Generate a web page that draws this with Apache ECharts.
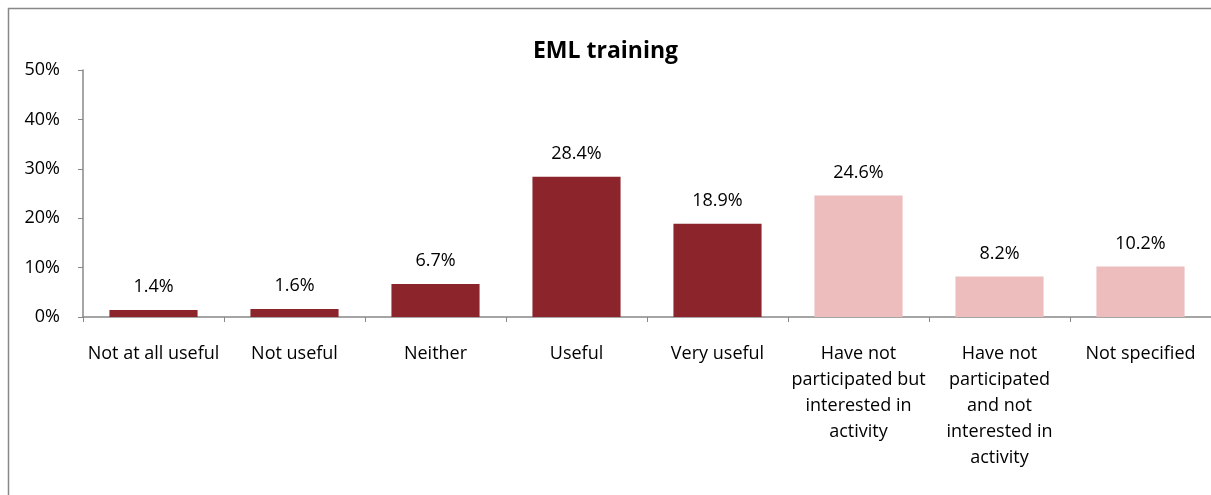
<!DOCTYPE html>
<html>
<head>
<meta charset="utf-8">
<script src="https://cdn.jsdelivr.net/npm/echarts@6/dist/echarts.min.js"></script>
<style>
  html, body { margin: 0; padding: 0; background: #fff; }
  #main { width: 1211px; height: 495px; }
</style>
</head>
<body>
<div id="main"></div>
<script>
// categories and values
var categories = [
    'Not at all useful',
    'Not useful',
    'Neither',
    'Useful',
    'Very useful',
    'Have not\nparticipated but\ninterested in\nactivity',
    'Have not\nparticipated\nand not\ninterested in\nactivity',
    'Not specified'
];
var shares = [1.4, 1.6, 6.7, 28.4, 18.9, 24.6, 8.2, 10.2];
var yTicks = [0, 10, 20, 30, 40, 50];
// the first five are ratings from participants, the rest are not
var ratedCount = 5;

var FONT = 'Open Sans';
var myChart = echarts.init(document.getElementById('main'));

var option = {
    animation: false,
    textStyle: { fontFamily: FONT },
    title: {
        text: 'EML training',
        left: 'center',
        top: 35,
        textStyle: { fontFamily: FONT, fontSize: 23, fontWeight: 'bold', color: '#000' }
    },
    // outer frame of the chart
    graphic: [{
        type: 'rect',
        shape: { x: 8.5, y: 8.5, width: 1300, height: 600 },
        style: { fill: 'none', stroke: '#888', lineWidth: 1.5 },
        silent: true
    }],
    grid: { left: 83, right: 0, top: 70, bottom: 178 },
    xAxis: {
        type: 'category',
        data: categories,
        axisLine: { lineStyle: { color: '#888', width: 1.5 } },
        axisTick: { show: true, length: 5, interval: 0, lineStyle: { color: '#888' } },
        axisLabel: { interval: 0, fontSize: 18, lineHeight: 26, color: '#000', margin: 24 }
    },
    yAxis: {
        type: 'value',
        min: yTicks[0],
        max: yTicks[yTicks.length - 1],
        interval: 10,
        splitLine: { show: false },
        axisLine: { show: true, lineStyle: { color: '#888', width: 1.5 } },
        axisTick: { show: true, length: 5, lineStyle: { color: '#888' } },
        axisLabel: { formatter: '{value}%', fontSize: 18, color: '#000', margin: 23 }
    },
    series: [{
        type: 'bar',
        data: shares,
        barCategoryGap: '37.5%',
        itemStyle: {
            color: function (p) {
                return p.dataIndex < ratedCount ? '#8B252B' : '#EDBCBD';
            }
        },
        label: {
            show: true,
            position: 'top',
            distance: 14,
            fontSize: 18,
            color: '#000',
            formatter: function (p) { return p.value.toFixed(1) + '%'; }
        }
    }]
};

myChart.setOption(option);
</script>
</body>
</html>
